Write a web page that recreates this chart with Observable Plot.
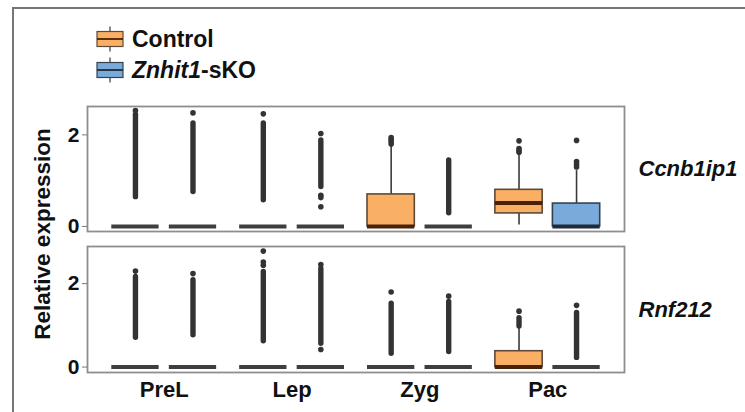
<!DOCTYPE html>
<html><head><meta charset="utf-8">
<script src="https://cdn.jsdelivr.net/npm/d3@7"></script>
<script src="https://cdn.jsdelivr.net/npm/@observablehq/plot@0.6"></script>
<style>
body{margin:0;background:#fff;}
#wrap{position:relative;width:745px;height:412px;overflow:hidden;background:#fff;font-family:Arial,"Liberation Sans",Helvetica,sans-serif;color:#111;}
#frame{position:absolute;left:12px;top:7px;width:760px;height:430px;border-left:2px solid #767676;border-top:2px solid #767676;}
#ylab{position:absolute;left:43px;top:234px;transform:translate(-50%,-50%) rotate(-90deg);white-space:nowrap;font-weight:bold;font-size:22.5px;}
.pl{position:absolute;left:0;}
#legend{position:absolute;left:0;top:0;}
</style></head><body>
<div id="wrap">
  <div id="frame"></div>
  <svg id="legend" width="745" height="90"></svg>
  <div id="ylab">Relative expression</div>
  <div id="top" class="pl" style="top:0px"></div>
  <div id="bot" class="pl" style="top:240px"></div>
</div>
<script>
// ---- data ----
const stages = ["PreL", "Lep", "Zyg", "Pac"];
const groups = ["Control", "Znhit1-sKO"];
const genes = ["Ccnb1ip1", "Rnf212"];
// order of each array: PreL-Control, PreL-KO, Lep-Control, Lep-KO, Zyg-Control, Zyg-KO, Pac-Control, Pac-KO
const ccnbQ1       = [0, 0, 0, 0, 0,    0, 0.285, 0];
const ccnbMedian   = [0, 0, 0, 0, 0,    0, 0.51,  0];
const ccnbQ3       = [0, 0, 0, 0, 0.70, 0, 0.80,  0.50];
const ccnbWhiskLo  = [0, 0, 0, 0, 0,    0, 0.03,  0];
const ccnbWhiskHi  = [0, 0, 0, 0, 1.75, 0, 1.55,  1.22];
const ccnbDenseLo  = [0.64, 0.75, 0.57, 0.86, null, 0.29, null, null];
const ccnbDenseHi  = [2.44, 2.25, 2.25, 1.88, null, 1.44, null, null];
const ccnbOutliers = [[2.53], [2.48], [2.46], [2.03, 0.68, 0.63, 0.43], [1.80, 1.85, 1.90, 1.94], [], [1.62, 1.66, 1.70, 1.87], [1.30, 1.36, 1.42, 1.88]];

const rnfQ1       = [0, 0, 0, 0, 0, 0, 0,    0];
const rnfMedian   = [0, 0, 0, 0, 0, 0, 0,    0];
const rnfQ3       = [0, 0, 0, 0, 0, 0, 0.38, 0];
const rnfWhiskLo  = [0, 0, 0, 0, 0, 0, 0,    0];
const rnfWhiskHi  = [0, 0, 0, 0, 0, 0, 0.93, 0];
const rnfDenseLo  = [0.70, 0.76, 0.62, 0.56, 0.32, 0.36, 0.97, 0.22];
const rnfDenseHi  = [2.16, 2.08, 2.28, 2.36, 1.52, 1.56, 1.17, 1.30];
const rnfOutliers = [[2.30], [2.24], [2.44, 2.52, 2.78], [2.46, 0.42], [1.80], [1.70], [1.34], [1.48]];

const yTicks = [0, 2];

// ---- style ----
const FONT = 'Arial, "Liberation Sans", Helvetica, sans-serif';
const fillC = {"Control": "#F9B064", "Znhit1-sKO": "#79AADA"};
const edgeC = {"Control": "#5E4A38", "Znhit1-sKO": "#34424F"};
const medC  = {"Control": "#4A2206", "Znhit1-sKO": "#1E2B39"};
const flatC = "#3e3e3e";
const dodge = 0.225, half = 0.185;

function panel(gene, q1, med, q3, wlo, whi, dlo, dhi, out, opts) {
  const rows = q1.map((_, i) => ({
    stage: stages[i >> 1], group: groups[i % 2],
    pos: (i >> 1) + (i % 2 ? dodge : -dodge),
    q1: q1[i], med: med[i], q3: q3[i], wlo: wlo[i], whi: whi[i], dlo: dlo[i], dhi: dhi[i]
  }));
  const dots = rows.flatMap((r, i) => out[i].map(v => ({pos: r.pos, v})));
  const marks = [
    Plot.ruleX(rows.filter(r => r.whi > r.q3), {x: "pos", y1: "q3", y2: "whi", stroke: "#3a3a3a", strokeWidth: 1.6}),
    Plot.ruleX(rows.filter(r => r.wlo < r.q1), {x: "pos", y1: "wlo", y2: "q1", stroke: "#3a3a3a", strokeWidth: 1.6})
  ];
  for (const g of groups) {
    const gr = rows.filter(r => r.group === g);
    const boxed = gr.filter(r => r.q3 > r.q1);
    const flat = gr.filter(r => !(r.q3 > r.q1));
    marks.push(Plot.rect(boxed, {x1: r => r.pos - half, x2: r => r.pos + half, y1: "q1", y2: "q3", fill: fillC[g], stroke: edgeC[g], strokeWidth: 1.6}));
    marks.push(Plot.ruleY(boxed, {y: "med", x1: r => r.pos - half, x2: r => r.pos + half, stroke: medC[g], strokeWidth: 4}));
    marks.push(Plot.ruleY(flat, {y: "med", x1: r => r.pos - half, x2: r => r.pos + half, stroke: flatC, strokeWidth: 4}));
  }
  marks.push(
    Plot.ruleX(rows.filter(r => r.dlo != null), {x: "pos", y1: "dlo", y2: "dhi", stroke: "#333", strokeWidth: 5.4, strokeLinecap: "round"}),
    Plot.dot(dots, {x: "pos", y: "v", r: 2.8, fill: "#333", stroke: "none"}),
    Plot.frame({stroke: "#8e8e8e", strokeWidth: 1.8}),
    Plot.axisY({ticks: yTicks, label: null, tickSize: 5, tickPadding: 3, stroke: "#7a7a7a", fill: "#111", fontSize: 21, fontWeight: "bold", tickFormat: d => String(d)}),
    Plot.text([gene], {frameAnchor: "right", textAnchor: "start", dx: 14, text: d => d, fontSize: 22, fontWeight: "bold", fontStyle: "italic", fill: "#111"})
  );
  if (opts.xAxis) {
    marks.push(Plot.axisX({ticks: [0, 1, 2, 3], label: null, tickFormat: i => stages[i], tickSize: 0, tickPadding: 9, fontSize: 22, fontWeight: "bold", fill: "#111"}));
  }
  return Plot.plot({
    width: 745, height: opts.height,
    marginLeft: 87, marginRight: 121, marginTop: opts.marginTop, marginBottom: opts.marginBottom,
    x: {domain: [-0.6, 3.6], axis: null, label: null},
    y: {domain: opts.domain, axis: null, label: null},
    style: {fontFamily: FONT, background: "transparent", overflow: "visible"},
    marks
  });
}

document.getElementById("top").appendChild(
  panel(genes[0], ccnbQ1, ccnbMedian, ccnbQ3, ccnbWhiskLo, ccnbWhiskHi, ccnbDenseLo, ccnbDenseHi, ccnbOutliers,
        {height: 240, marginTop: 106, marginBottom: 9, domain: [-0.11, 2.62]}));
document.getElementById("bot").appendChild(
  panel(genes[1], rnfQ1, rnfMedian, rnfQ3, rnfWhiskLo, rnfWhiskHi, rnfDenseLo, rnfDenseHi, rnfOutliers,
        {height: 172, marginTop: 6, marginBottom: 40, domain: [-0.13, 2.89], xAxis: true}));

// ---- legend ----
const leg = d3.select("#legend");
groups.forEach((g, i) => {
  const cy = 39 + i * 31;
  const k = leg.append("g");
  k.append("line").attr("x1", 110).attr("x2", 110).attr("y1", cy - 12.5).attr("y2", cy + 12.5).attr("stroke", "#555").attr("stroke-width", 1.4);
  k.append("rect").attr("x", 97).attr("y", cy - 7.5).attr("width", 26).attr("height", 15).attr("fill", fillC[g]).attr("stroke", edgeC[g]).attr("stroke-width", 1.2);
  k.append("line").attr("x1", 97).attr("x2", 123).attr("y1", cy).attr("y2", cy).attr("stroke", medC[g]).attr("stroke-width", 1.8);
  const t = leg.append("text").attr("x", 132).attr("y", cy + 8.4).attr("font-family", FONT).attr("font-size", 23).attr("font-weight", "bold").attr("fill", "#111");
  if (i === 0) t.text(g);
  else {
    t.append("tspan").attr("font-style", "italic").text("Znhit1");
    t.append("tspan").text("-sKO");
  }
});
</script>
</body></html>
